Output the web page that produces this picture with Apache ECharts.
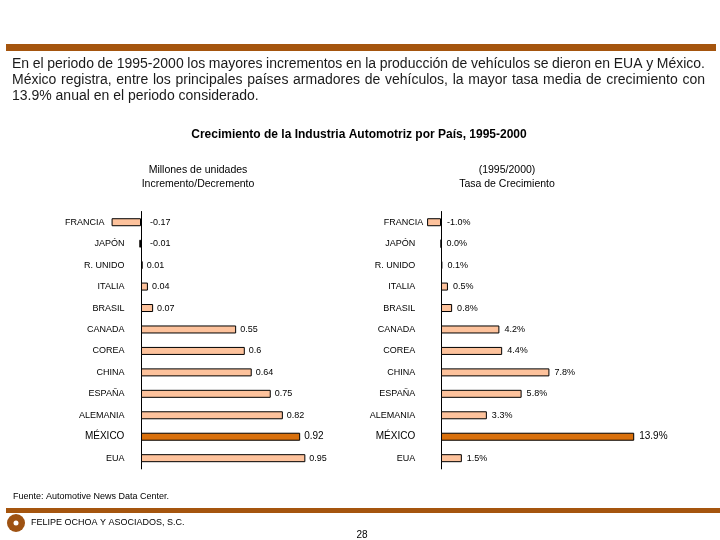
<!DOCTYPE html>
<html>
<head>
<meta charset="utf-8">
<script src="https://cdn.jsdelivr.net/npm/echarts@6/dist/echarts.min.js"></script>
<style>html,body{margin:0;padding:0;background:#fff}#c{width:720px;height:540px}</style>
</head>
<body>
<div id="c"></div>
<script>
const categories = ['FRANCIA','JAPÓN','R. UNIDO','ITALIA','BRASIL','CANADA','COREA','CHINA','ESPAÑA','ALEMANIA','MÉXICO','EUA'];
const incrementoMillones = [-0.17,-0.01,0.01,0.04,0.07,0.55,0.6,0.64,0.75,0.82,0.92,0.95];
const tasaCrecimiento = [-1.0,0.0,0.1,0.5,0.8,4.2,4.4,7.8,5.8,3.3,13.9,1.5];
const highlighted = 'MÉXICO';

const paragraphLines = [
  'En el periodo de 1995-2000 los mayores incrementos en la producción de vehículos se dieron en EUA y México.',
  'México registra, entre los principales países armadores de vehículos, la mayor tasa media de crecimiento con',
  '13.9% anual en el periodo considerado.'
];
const chartTitle = 'Crecimiento de la Industria Automotriz por País, 1995-2000';
const leftSub = ['Millones de unidades', 'Incremento/Decremento'];
const rightSub = ['(1995/2000)', 'Tasa de Crecimiento'];
const sourceText = 'Fuente: Automotive News Data Center.';
const firmText = 'FELIPE OCHOA Y ASOCIADOS, S.C.';
const pageNumber = '28';

const FF = '"Liberation Sans", Arial, sans-serif';
const LIGHT = '#FDC29C';
const DARK = '#D9700C';
const BROWN = '#A5550E';

// justified paragraph
const cv = document.createElement('canvas').getContext('2d');
const pFont = '14px ' + FF;
cv.font = pFont;
const graphics = [];
const pLeft = 12, pRight = 705, lineYs = [64, 80, 96];
paragraphLines.forEach((line, li) => {
  const words = line.split(' ');
  const last = li === paragraphLines.length - 1;
  if (last) {
    graphics.push({type:'text', x:pLeft, y:lineYs[li], style:{text:line, font:pFont, fill:'#1a1a1a', textAlign:'left', textVerticalAlign:'middle'}});
    return;
  }
  const widths = words.map(w => cv.measureText(w).width);
  const total = widths.reduce((a,b)=>a+b,0);
  const gap = (pRight - pLeft - total) / (words.length - 1);
  let x = pLeft;
  words.forEach((w, i) => {
    graphics.push({type:'text', x:x, y:lineYs[li], style:{text:w, font:pFont, fill:'#1a1a1a', textAlign:'left', textVerticalAlign:'middle'}});
    x += widths[i] + gap;
  });
});

graphics.push(
  {type:'rect', shape:{x:6, y:44, width:710, height:7}, style:{fill:BROWN}},
  {type:'text', x:359, y:135, style:{text:chartTitle, font:'bold 12px ' + FF, fill:'#000', textAlign:'center', textVerticalAlign:'middle'}},
  {type:'text', x:198, y:170, style:{text:leftSub[0], font:'10.5px ' + FF, fill:'#000', textAlign:'center', textVerticalAlign:'middle'}},
  {type:'text', x:198, y:184, style:{text:leftSub[1], font:'10.5px ' + FF, fill:'#000', textAlign:'center', textVerticalAlign:'middle'}},
  {type:'text', x:507, y:170, style:{text:rightSub[0], font:'10.5px ' + FF, fill:'#000', textAlign:'center', textVerticalAlign:'middle'}},
  {type:'text', x:507, y:184, style:{text:rightSub[1], font:'10.5px ' + FF, fill:'#000', textAlign:'center', textVerticalAlign:'middle'}},
  {type:'text', x:13, y:497, style:{text:sourceText, font:'9px ' + FF, fill:'#000', textAlign:'left', textVerticalAlign:'middle'}},
  {type:'rect', shape:{x:6, y:508, width:714, height:5}, style:{fill:BROWN}},
  {type:'circle', shape:{cx:16, cy:523, r:9}, style:{fill:'#9E5212'}},
  {type:'circle', shape:{cx:16, cy:523, r:2.5}, style:{fill:'#fff'}},
  {type:'text', x:31, y:523, style:{text:firmText, font:'9px ' + FF, fill:'#000', textAlign:'left', textVerticalAlign:'middle'}},
  {type:'text', x:362, y:535, style:{text:pageNumber, font:'10px ' + FF, fill:'#000', textAlign:'center', textVerticalAlign:'middle'}}
);

function makeData(values, fmt, negDist, posDist) {
  return values.map((v, i) => {
    const hi = categories[i] === highlighted;
    return {
      value: v,
      itemStyle: {color: hi ? DARK : LIGHT},
      label: {
        distance: v < 0 ? negDist : posDist,
        fontSize: hi ? 10 : 9,
        formatter: fmt(v)
      }
    };
  });
}

function catLabel(margin, padN, padF) {
  return {
    margin: margin,
    formatter: (v) => v === 'FRANCIA' ? '{f|' + v + '}' : (v === highlighted ? '{m|' + v + '}' : '{n|' + v + '}'),
    rich: {
      n: {fontSize: 9, fontFamily: FF, color: '#000', padding: [0, padN, 0, 0]},
      f: {fontSize: 9, fontFamily: FF, color: '#000', padding: [0, padF, 0, 0]},
      m: {fontSize: 10, fontFamily: FF, color: '#000', padding: [0, padN, 0, 0]}
    }
  };
}

const chart = echarts.init(document.getElementById('c'), null, {renderer: 'canvas'});
const gridTop = 211.5, gridH = 257.4;
chart.setOption({
  animation: false,
  textStyle: {fontFamily: FF},
  grid: [
    {left: 106.4, top: gridTop, width: 207.6, height: gridH},
    {left: 413.2, top: gridTop, width: 250.2, height: gridH}
  ],
  xAxis: [
    {gridIndex: 0, type: 'value', min: -0.2, max: 1.0, show: false},
    {gridIndex: 1, type: 'value', min: -2, max: 16, show: false}
  ],
  yAxis: [
    {gridIndex: 0, type: 'category', data: categories, inverse: true,
     axisLine: {show: true, onZero: true, lineStyle: {color: '#000', width: 1}},
     axisTick: {show: false}, splitLine: {show: false},
     axisLabel: catLabel(-18, 0, 20)},
    {gridIndex: 1, type: 'category', data: categories, inverse: true,
     axisLine: {show: true, onZero: true, lineStyle: {color: '#000', width: 1}},
     axisTick: {show: false}, splitLine: {show: false},
     axisLabel: catLabel(-10, 8, 0)}
  ],
  series: [
    {type: 'bar', xAxisIndex: 0, yAxisIndex: 0, barWidth: 8,
     itemStyle: {borderColor: '#000', borderWidth: 1},
     label: {show: true, position: 'right', color: '#000', fontFamily: FF},
     data: makeData(incrementoMillones, v => String(v), 9, 4)},
    {type: 'bar', xAxisIndex: 1, yAxisIndex: 1, barWidth: 8,
     itemStyle: {borderColor: '#000', borderWidth: 1},
     label: {show: true, position: 'right', color: '#000', fontFamily: FF},
     data: makeData(tasaCrecimiento, v => v.toFixed(1) + '%', 6, 5)}
  ],
  graphic: graphics
});
</script>
</body>
</html>
